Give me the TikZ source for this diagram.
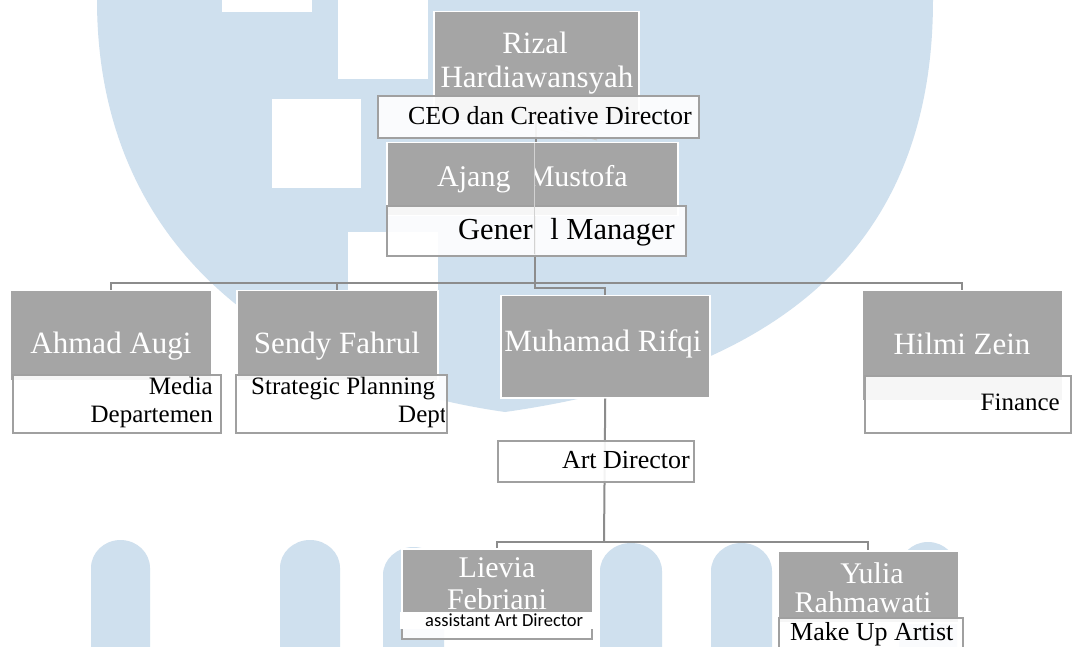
\documentclass[tikz,border=0pt]{standalone}
\usepackage{fontspec}
\setmainfont{Liberation Serif}
\newfontfamily\calib{Carlito}
\definecolor{wm}{RGB}{207,224,238}
\definecolor{boxgray}{RGB}{165,165,165}
\definecolor{edgegray}{RGB}{160,160,160}
\definecolor{linegray}{RGB}{140,140,140}
\tikzset{
  graybox/.style={fill=boxgray, draw=white, line width=1.5pt, inner sep=0pt, anchor=north west},
  subbox/.style={fill=white, fill opacity=0.9, draw=edgegray, draw opacity=1, line width=2pt, inner sep=0pt, anchor=north west},
  nametext/.style={inner sep=0pt, anchor=base, text=white, font=\fontsize{31}{36}\selectfont},
  roletext/.style={inner sep=0pt, anchor=base east, text=black, font=\fontsize{25}{28}\selectfont},
  conn/.style={draw=linegray, line width=2pt},
}
\begin{document}
\begin{tikzpicture}[x=1pt,y=-1pt]
\useasboundingbox (0,0) rectangle (1072,647);
\clip (0,0) rectangle (1072,647);
\fill[white] (0,0) rectangle (1072,647);
% watermark
\fill[wm] (97,-5) -- (97,0) .. controls (97,250) and (280,380) .. (505,412)
  .. controls (800,370) and (933,230) .. (933,0) -- (933,-5) -- cycle;
\fill[white] (222,-5) rectangle (312,12);
\fill[white] (338,-5) rectangle (428,79);
\fill[white] (272,99) rectangle (361,188);
\fill[white] (348,232) rectangle (438,322);
\foreach \a/\b/\t in {91/150/540, 280/340/540, 383/444/547, 600/662/543, 711/772/543, 899/957/542}{
  \fill[wm] (\a,660) -- (\a,\t+28) arc[start angle=180, end angle=360, x radius={(\b-\a)/2}, y radius=28] -- (\b,660) -- cycle;
}
% boxes (shapes only, text placed below)
\node[graybox, minimum width=205pt, minimum height=109pt] (rizal) at (433,11) {};
\node[graybox, minimum width=291pt, minimum height=73pt] (ajang) at (386,142) {};
\node[graybox, minimum width=202pt, minimum height=90pt] (ahmad) at (9,290) {};
\node[graybox, minimum width=201pt, minimum height=90pt] (sendy) at (236,290) {};
\node[graybox, minimum width=209pt, minimum height=102pt] (muhamad) at (500,295) {};
\node[graybox, minimum width=201pt, minimum height=110pt] (hilmi) at (861,290) {};
\node[graybox, minimum width=191pt, minimum height=70pt] (lievia) at (401,548) {};
\node[graybox, minimum width=181pt, minimum height=72pt] (yulia) at (777,550) {};
% connectors
\coordinate (bus2) at (535,283);
\coordinate (bus3) at (604,542);
\draw[conn] (rizal.south) -- (rizal.south |- ajang.north);
\draw[gray!45, line width=1pt] (550,127) -- (597,140);
\draw[conn] (ajang.south) ++(3,0) coordinate (gmdrop) -- (gmdrop |- bus2);
\draw[conn] (ahmad.north) -- (ahmad.north |- bus2) -- (hilmi.north |- bus2) -- (hilmi.north);
\draw[conn] (sendy.north) -- (sendy.north |- bus2);
\draw[conn] (gmdrop |- bus2) -- ++(0,5) -| (muhamad.north);
\draw[conn] (muhamad.south) -- (bus3);
\draw[conn] (lievia.north) -- (lievia.north |- bus3) -- (yulia.north |- bus3) -- (yulia.north);
% sub boxes
\node[subbox, minimum width=321pt, minimum height=42pt] (ceo) at (377,95) {};
\node[subbox, minimum width=299pt, minimum height=50pt] (gm) at (386,205) {};
\node[subbox, minimum width=208pt, minimum height=58pt] (ahmadsub) at (12,374) {};
\node[subbox, minimum width=211pt, minimum height=58pt] (sendysub) at (235,374) {};
\node[subbox, minimum width=196pt, minimum height=41pt] (art) at (497,440) {};
\node[subbox, minimum width=206pt, minimum height=57pt] (hilmisub) at (864,375) {};
\node[subbox, minimum width=190pt, minimum height=25pt] (lieviasub) at (401,613) {};
\node[subbox, minimum width=184pt, minimum height=45pt] (yuliasub) at (778,617) {};
% names
\node[nametext] (rizalA) at (535,54) {Rizal};
\node[nametext] (rizalB) at (537,88) {Hardiawansyah};
\node[nametext, anchor=base west, font=\fontsize{30}{34}\selectfont] (ajangA) at (437,187) {Ajang};
\node[nametext, anchor=base east, font=\fontsize{30}{34}\selectfont] (ajangB) at (628,187) {Mustofa};
\node[nametext] (ahmadT) at (111,353) {Ahmad Augi};
\node[nametext] (sendyT) at (337,353) {Sendy Fahrul};
\node[nametext] (muhamadT) at (603,352) {Muhamad Rifqi};
\node[nametext] (hilmiT) at (962,355) {Hilmi Zein};
\node[nametext, font=\fontsize{30}{34}\selectfont] (lieviaA) at (497,577) {Lievia};
\node[nametext, font=\fontsize{30}{34}\selectfont] (lieviaB) at (497,609) {Febriani};
\node[nametext, font=\fontsize{30}{34}\selectfont] (yuliaA) at (872,583) {Yulia};
\node[nametext, font=\fontsize{30}{34}\selectfont] (yuliaB) at (863,612) {Rahmawati};
% roles
\node[roletext, font=\fontsize{26}{28}\selectfont] (ceoT) at (692,125) {CEO dan Creative Director};
\node[roletext, anchor=base west, font=\fontsize{30.5}{34}\selectfont] (gmA) at (458,240) {Gener};
\node[roletext, font=\fontsize{30.5}{34}\selectfont] (gmB) at (675,240) {l Manager};
\node[roletext] (ahmadR1) at (213,395) {Media};
\node[roletext] (ahmadR2) at (213,422) {Departemen};
\begin{scope}
  \clip (237,376) rectangle (444,430);
  \node[roletext, anchor=base west] (sendyR1) at (251,395) {Strategic Planning};
  \node[roletext, anchor=base west] (sendyR2) at (398,422) {Dept};
\end{scope}
\node[roletext, font=\fontsize{26}{28}\selectfont] (artT) at (690,468) {Art Director};
\node[roletext] (hilmiR) at (1060,410) {Finance};
\node[fill=white, inner sep=0pt, anchor=north west, minimum width=197pt, minimum height=17pt] (lieviaback) at (400,612) {};
\node[inner sep=0pt, anchor=base west, font=\calib\fontsize{18.5}{20}\selectfont] (lieviaR) at (425,626) {assistant Art Director};
\node[roletext, anchor=base west, font=\fontsize{26}{28}\selectfont] (yuliaR) at (790,640) {Make Up Artist};
% stripe hiding part of the M
\fill[boxgray] (526,144) rectangle (535,203);
\draw[gray!35, line width=0.8pt] (534,143) -- (534,254);
\end{tikzpicture}
\end{document}
